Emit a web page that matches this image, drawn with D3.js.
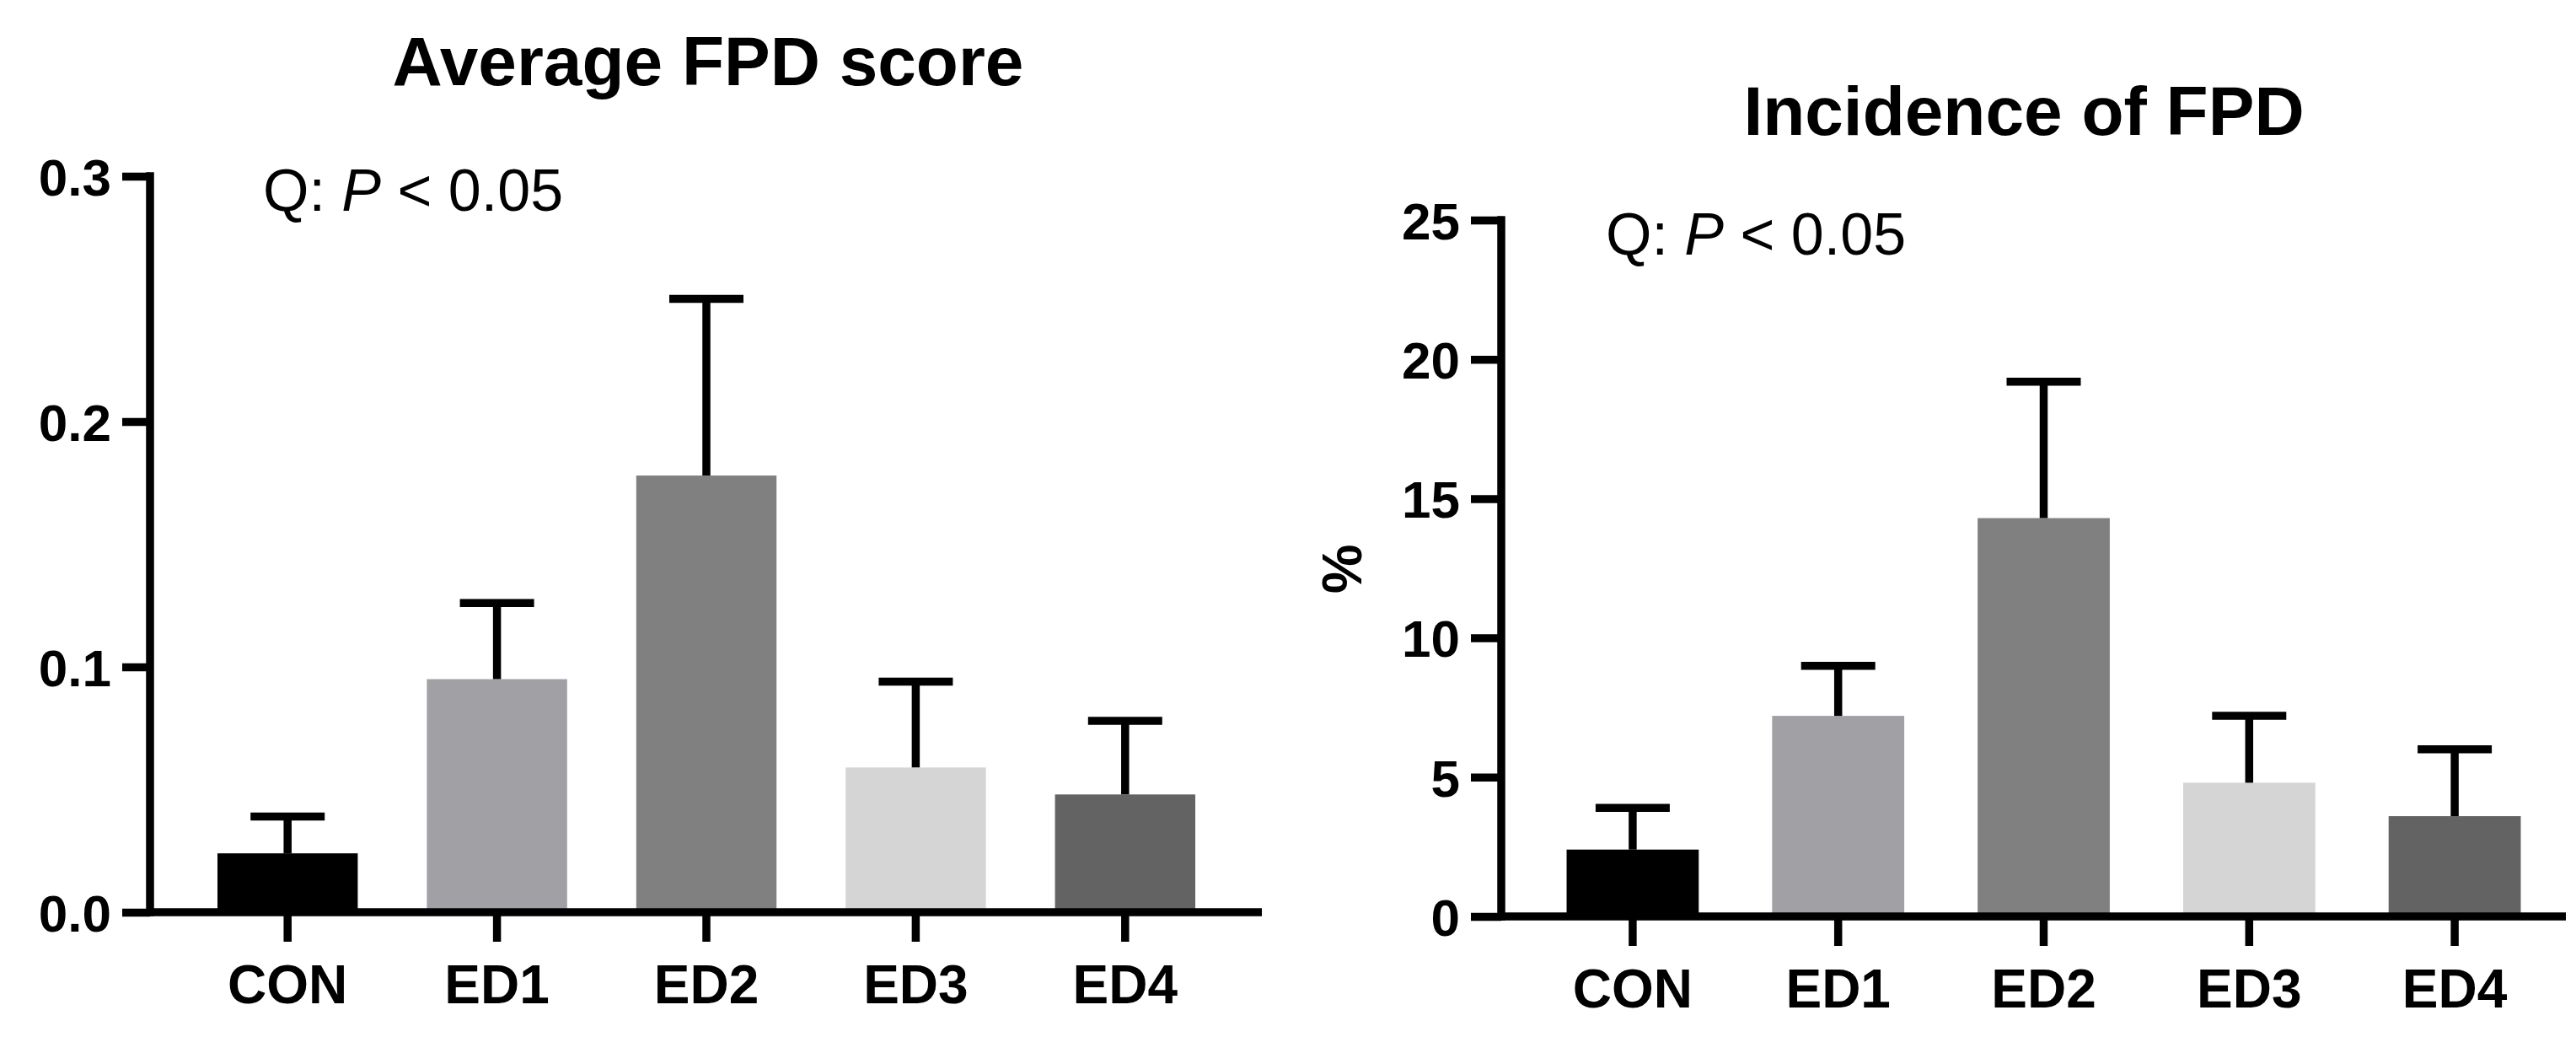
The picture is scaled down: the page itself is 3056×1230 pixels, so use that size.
<!DOCTYPE html>
<html lang="en">
  <head>
    <meta charset="utf-8" />
    <title>FPD score and incidence</title>
    <script src="https://cdn.jsdelivr.net/npm/d3@7"></script>
    <style>
      body {
        margin: 0;
        background: #fff;
      }
      text {
        font-family: "Liberation Sans", Arial, sans-serif;
        fill: #000;
      }
      .tick text,
      .cat,
      .title,
      .ylabel {
        font-weight: bold;
      }
    </style>
  </head>
  <body>
    <script>
      // values
      var categories = ["CON", "ED1", "ED2", "ED3", "ED4"];
      var scoreMean = [0.024, 0.095, 0.178, 0.059, 0.048];
      var scoreErr = [0.015, 0.031, 0.072, 0.035, 0.030];
      var scoreTicks = [0, 0.1, 0.2, 0.3];
      var incidenceMean = [2.4, 7.2, 14.3, 4.8, 3.6];
      var incidenceErr = [1.5, 1.8, 4.9, 2.4, 2.4];
      var incidenceTicks = [0, 5, 10, 15, 20, 25];

      var barColors = ["#000000", "#a1a1a5", "#808080", "#d5d5d5", "#636363"];

      var W = 3056;
      var H = 1230;
      var lw = 9.5;

      var svg = d3
        .select("body")
        .append("svg")
        .attr("width", W)
        .attr("height", H);

      function drawPanel(p) {
        var g = svg.append("g");

        var y = d3.scaleLinear().domain(p.domain).range([p.y0, p.yTop]);
        var x = d3
          .scaleBand()
          .domain(categories)
          .range(p.bandRange)
          .paddingInner(p.pad)
          .paddingOuter(p.pad / 2);

        // bars
        g.selectAll("rect.bar")
          .data(p.mean)
          .enter()
          .append("rect")
          .attr("class", "bar")
          .attr("x", function (d, i) { return x(categories[i]); })
          .attr("y", function (d) { return y(d); })
          .attr("width", x.bandwidth())
          .attr("height", function (d) { return p.y0 - y(d); })
          .attr("fill", function (d, i) { return barColors[i]; });

        // upper error bars only
        var eb = g.selectAll("g.err")
          .data(p.mean)
          .enter()
          .append("g")
          .attr("class", "err");
        eb.append("line")
          .attr("x1", function (d, i) { return x(categories[i]) + x.bandwidth() / 2; })
          .attr("x2", function (d, i) { return x(categories[i]) + x.bandwidth() / 2; })
          .attr("y1", function (d) { return y(d); })
          .attr("y2", function (d, i) { return y(d + p.err[i]); })
          .attr("stroke", "#000")
          .attr("stroke-width", lw);
        eb.append("line")
          .attr("x1", function (d, i) { return x(categories[i]) + x.bandwidth() / 2 - 44; })
          .attr("x2", function (d, i) { return x(categories[i]) + x.bandwidth() / 2 + 44; })
          .attr("y1", function (d, i) { return y(d + p.err[i]); })
          .attr("y2", function (d, i) { return y(d + p.err[i]); })
          .attr("stroke", "#000")
          .attr("stroke-width", lw);

        // y axis
        var yAxis = g.append("g")
          .attr("transform", "translate(" + p.axisX + ",0)")
          .call(
            d3.axisLeft(y)
              .tickValues(p.ticks)
              .tickFormat(p.fmt)
              .tickSize(p.tick)
              .tickSizeOuter(0)
              .tickPadding(13)
          );
        yAxis.select(".domain")
          .attr("stroke-width", lw)
          .attr("d", "M0," + (p.yTop - lw / 2) + "V" + (p.y0 + lw / 2));
        yAxis.selectAll(".tick line").attr("stroke-width", lw);
        yAxis.selectAll(".tick text")
          .attr("font-size", 62)
          .attr("dy", "0.36em");

        // x axis
        var xAxis = g.append("g")
          .attr("transform", "translate(0," + p.y0 + ")")
          .call(d3.axisBottom(x).tickSize(35).tickSizeOuter(0).tickPadding(27));
        xAxis.select(".domain")
          .attr("stroke-width", lw)
          .attr("d", "M" + p.axisX + ",0H" + p.xEnd);
        xAxis.selectAll(".tick line").attr("stroke-width", lw);
        xAxis.selectAll(".tick text")
          .attr("class", "cat")
          .attr("font-size", 64)
          .attr("dy", "0.72em");

        // title
        g.append("text")
          .attr("class", "title")
          .attr("x", p.titleX)
          .attr("y", p.titleY)
          .attr("text-anchor", "middle")
          .attr("font-size", 82)
          .text(p.title);

        // trend annotation
        var q = g.append("text")
          .attr("x", p.qX)
          .attr("y", p.qY)
          .attr("font-size", 70);
        q.append("tspan").text("Q: ");
        q.append("tspan").attr("font-style", "italic").text("P");
        q.append("tspan").text(" < 0.05");

        if (p.ylabel) {
          g.append("text")
            .attr("class", "ylabel")
            .attr("transform", "translate(" + p.ylabelX + "," + p.ylabelY + ") rotate(-90)")
            .attr("text-anchor", "middle")
            .attr("font-size", 66)
            .text(p.ylabel);
        }
      }

      drawPanel({
        mean: scoreMean,
        err: scoreErr,
        ticks: scoreTicks,
        fmt: d3.format(".1f"),
        domain: [0, 0.3],
        y0: 1082,
        yTop: 209,
        axisX: 178,
        tick: 33,
        xEnd: 1497,
        bandRange: [217, 1459],
        pad: 0.33,
        title: "Average FPD score",
        titleX: 840,
        titleY: 101,
        qX: 312,
        qY: 250
      });

      drawPanel({
        mean: incidenceMean,
        err: incidenceErr,
        ticks: incidenceTicks,
        fmt: d3.format("d"),
        domain: [0, 25],
        y0: 1087,
        yTop: 261,
        axisX: 1781,
        tick: 36,
        xEnd: 3044,
        bandRange: [1815, 3034],
        pad: 0.357,
        title: "Incidence of FPD",
        titleX: 2401,
        titleY: 160,
        qX: 1905,
        qY: 302,
        ylabel: "%",
        ylabelX: 1615,
        ylabelY: 675
      });
    </script>
  </body>
</html>
